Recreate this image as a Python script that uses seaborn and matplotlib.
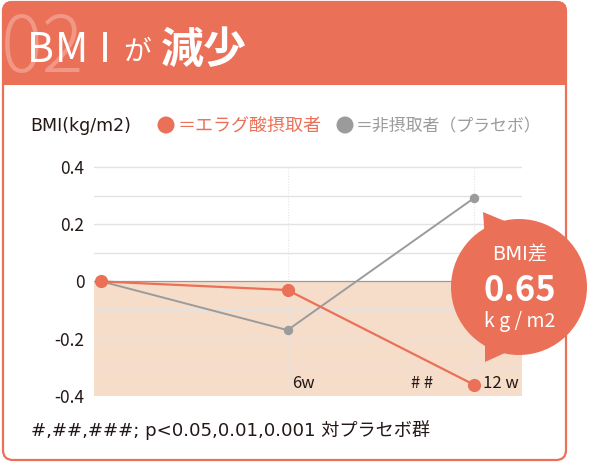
import numpy as np
import pandas as pd
import seaborn as sns
import matplotlib.pyplot as plt
from matplotlib.patches import FancyBboxPatch, Rectangle, Circle, Polygon

# data
weeks = ["0w", "6w", "12w"]
week_labels = ["", "6w", "12 w"]
sig_marks = ["", "", "# #"]
ellagic = [0.0, -0.03, -0.36]
placebo = [0.0, -0.17, 0.29]
y_ticks = [0.4, 0.2, 0.0, -0.2, -0.4]
y_tick_labels = ["0.4", "0.2", "0", "-0.2", "-0.4"]
bmi_diff = "0.65"

ORANGE = "#EB7058"
GREY = "#9B9B9B"
PEACH = "#F6DDCA"
INK = "#231815"
WIDE = ['DejaVu Sans', 'Noto Sans CJK JP']

sns.set_theme(style="white")
plt.rcParams['font.family'] = ['Noto Sans CJK JP', 'DejaVu Sans']

df = pd.DataFrame({
    "pos": list(range(len(weeks))) * 2,
    "bmi": ellagic + placebo,
    "group": ["ellagic"] * len(weeks) + ["placebo"] * len(weeks),
})

fig = plt.figure(figsize=(5.9, 4.66), dpi=100)

# background layer in pixel coords
bg = fig.add_axes([0, 0, 1, 1])
bg.set_xlim(0, 590)
bg.set_ylim(466, 0)
bg.axis('off')
bg.set_zorder(0)
bg.add_patch(FancyBboxPatch((3, 2), 563, 458, boxstyle="round,pad=0,rounding_size=10",
                            fc="white", ec=ORANGE, lw=1.6))
bg.add_patch(FancyBboxPatch((2, 1), 565, 84, boxstyle="round,pad=0,rounding_size=10",
                            fc=ORANGE, ec="none"))
bg.add_patch(Rectangle((2, 55), 565, 30, fc=ORANGE, ec="none"))
bg.text(1, 72, "02", fontsize=56, color="white", alpha=0.28, fontweight="light", va="baseline")
# spaced-out title letters
for ch, xpos in zip("BMI", [27, 55, 99]):
    bg.text(xpos, 62, ch, fontsize=29.5, color="white", va="baseline")
bg.text(123, 60, "が", fontsize=20, color="white", va="baseline")
bg.text(161, 63, "減少", fontsize=31, color="white", fontweight="bold", va="baseline")

# legend row
bg.text(30, 131, "BMI(kg/m2)", fontsize=12.5, color=INK, va="baseline", family=WIDE)
bg.add_patch(Circle((166, 125), 8.5, fc=ORANGE, ec="none"))
bg.text(177, 131, "＝エラグ酸摂取者", fontsize=13, color=ORANGE, va="baseline")
bg.add_patch(Circle((345, 125), 8.5, fc=GREY, ec="none"))
bg.text(356, 131, "＝非摂取者（プラセボ）", fontsize=12.2, color=GREY, va="baseline")

# footnote
bg.text(31, 436, "#,##,###; p<0.05,0.01,0.001 対プラセボ群", fontsize=13.1, color=INK,
        va="baseline", family=WIDE)

# chart
ax = fig.add_axes([94 / 590, 1 - 396 / 466, 428 / 590, 230 / 466])
ax.set_zorder(1)
ax.patch.set_alpha(0)
ax.set_xlim(-0.04, 2.26)
ax.set_ylim(-0.4, 0.403)
ax.axhspan(-0.4, 0, color=PEACH, lw=0, zorder=0)
for v in np.arange(-0.3, 0.45, 0.1):
    if abs(v) > 1e-9:
        ax.axhline(v, color="#E2E2E2", lw=1, zorder=0.5)
ax.axhline(0, color="#9A9A9A", lw=0.9, zorder=0.6)
for i in range(1, len(weeks)):
    ax.axvline(i, color="#E4E4E4", lw=0.8, ls=(0, (1, 1.5)), zorder=0.5)

sns.lineplot(data=df[df.group == "placebo"], x="pos", y="bmi", color=GREY, lw=1.4,
             marker="o", markersize=6.8, markeredgewidth=0, ax=ax, zorder=2)
sns.lineplot(data=df[df.group == "ellagic"], x="pos", y="bmi", color=ORANGE, lw=1.6,
             marker="o", markersize=9.5, markeredgewidth=0, ax=ax, zorder=3)

ax.set_yticks(y_ticks, y_tick_labels)
ax.set_xticks([])
ax.set_xlabel("")
ax.set_ylabel("")
ax.tick_params(axis='y', length=0, pad=7, labelsize=12.5, labelcolor=INK)
for s in ax.spines.values():
    s.set_visible(False)

for i, (lab, sig) in enumerate(zip(week_labels, sig_marks)):
    if lab:
        ax.annotate(lab, (i, -0.355), xytext=(3 if i == 1 else 6.5, 0), textcoords="offset points",
                    fontsize=12, color=INK, va="center", ha="left")
    if sig:
        ax.annotate(sig, (i, -0.355), xytext=(-37, 0), textcoords="offset points",
                    fontsize=12, color=INK, va="center", ha="center")

# speech bubble on top
fg = fig.add_axes([0, 0, 1, 1])
fg.set_xlim(0, 590)
fg.set_ylim(466, 0)
fg.axis('off')
fg.set_zorder(3)
fg.patch.set_alpha(0)
fg.add_patch(Circle((519, 287), 68, fc=ORANGE, ec="none"))
fg.add_patch(Polygon([(483, 212), (485, 240), (507, 222)], fc=ORANGE, ec="none"))
fg.add_patch(Polygon([(485, 362), (485, 335), (507, 352)], fc=ORANGE, ec="none"))
fg.text(520, 260, "BMI差", fontsize=14, color="white", ha="center", va="baseline", family=WIDE)
fg.text(520, 301, bmi_diff, fontsize=25, color="white", fontweight="bold", ha="center", va="baseline")
fg.text(520, 327, "k g / m2", fontsize=14, color="white", ha="center", va="baseline")

fig.savefig("out.png", dpi=100)
